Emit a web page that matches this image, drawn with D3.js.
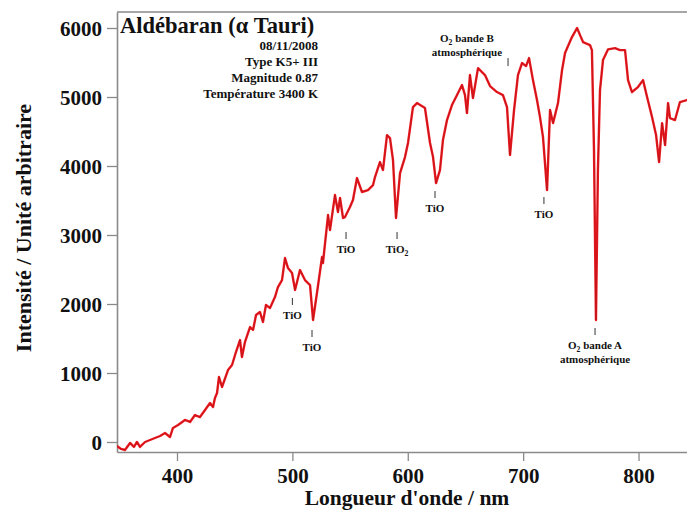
<!DOCTYPE html>
<html>
<head>
<meta charset="utf-8">
<script src="https://cdn.jsdelivr.net/npm/d3@7"></script>
<style>
html, body { margin: 0; padding: 0; background: #fff; }
svg { display: block; }
text { font-family: "Liberation Serif", "Times New Roman", serif; font-weight: bold; fill: #111; }
</style>
</head>
<body>
<svg id="chart" width="687" height="511"></svg>
<script>
// ---- data ----
const wavelength = [348,351.5,354.9,359.3,362.7,365.3,367.9,372.3,376.6,380.9,385.3,389.6,393.9,396.5,400.9,406.9,411.3,415.6,419.9,424.3,428.6,431.2,432.9,434.7,436.4,439.0,444.2,447.7,451.1,454.6,456.3,458.9,461.5,463.3,465.9,468.5,471.9,474.5,477.1,480.6,484.9,487.5,491.0,493.6,496.2,499.7,502.3,506.6,510.9,515.3,517.9,521.3,525.7,526.5,530.9,532.6,536.9,539.5,541.3,543.9,545.6,549.9,552.5,556.0,560.3,565.5,569.9,571.6,575.9,578.5,582.0,584.6,587.2,589.8,593.3,597.6,600.2,604.5,608.0,614.9,619.3,621.9,624.5,627.9,630.5,634.0,638.3,642.7,647.0,649.6,651.3,653.9,656.5,660.9,666.9,671.3,677.3,682.5,686.0,688.6,692.1,695.5,699.0,702.5,705.1,708.5,712.0,714.6,717.2,720.7,723.3,725.9,730.2,733.7,736.3,742.3,746.7,749.3,751.9,757.9,759.6,761.4,763.1,764.8,766.6,769.2,773.5,779.6,783.9,788.3,790.9,794.3,799.5,803.9,807.4,811.7,815.2,817.8,820.4,823.0,825.6,827.3,831.6,835.9,842.0,849];
const intensity = [-58,-101,-116,-14,-72,0,-72,0,29,58,87,130,72,203,246,319,290,391,362,464,565,507,638,710,942,797,1043,1116,1304,1478,1232,1449,1579,1666,1623,1840,1884,1739,1985,1942,2101,2246,2347,2666,2521,2449,2202,2492,2347,2275,1768,2159,2681,2594,3289,3072,3579,3333,3536,3246,3260,3405,3507,3825,3623,3651,3724,3840,4057,3941,4448,4405,4086,3246,3898,4130,4333,4854,4912,4840,4333,4130,3753,3941,4376,4666,4883,5028,5173,5028,4767,5318,4985,5419,5318,5158,5072,5028,4854,4159,4811,5318,5492,5448,5564,5245,4956,4709,4419,3651,4811,4622,4912,5390,5637,5869,5999,5897,5796,5753,5680,4231,1768,3941,5101,5535,5690,5709,5680,5680,5245,5072,5144,5245,4999,4709,4448,4057,4622,4303,4912,4695,4666,4927,4956,4950];

const xTicks = [400, 500, 600, 700, 800];
const yTicks = [0, 1000, 2000, 3000, 4000, 5000, 6000];

const titleText = "Aldébaran (α Tauri)";
const infoLines = ["08/11/2008", "Type K5+ III", "Magnitude 0.87", "Température 3400 K"];

// annotation anchors: wavelength of the marker, intensity at the top of the marker
const annoNm   = [500, 517, 546.5, 590.7, 623.6, 718, 762.3];
const annoTop  = [2087, 1623, 3043, 3043, 3637, 3550, 1652];
const annoText = [["TiO"], ["TiO"], ["TiO"], ["TiO|2"], ["TiO"], ["TiO"], ["O|2| bande A", "atmosphérique"]];
// O2 band B: marker and text placed separately
const bandBMarkerNm = 686.9, bandBMarkerTop = 5564;
const bandBTextNm = 651.3, bandBTextI = 5796;
const bandBText = ["O|2| bande B", "atmosphérique"];

(function draw() {
  const svg = d3.select("#chart");
  const mL = 117, mR = 687, mT = 12, mB = 452;
  const x = d3.scaleLinear().domain([348, 842]).range([mL, mR]);
  const y = d3.scaleLinear().domain([-145, 6232]).range([mB, mT]);
  const axisColor = "#8a8a8a";
  const fontFam = '"Liberation Serif", "Times New Roman", serif';

  svg.append("line").attr("x1", mL).attr("x2", mR).attr("y1", mT).attr("y2", mT)
    .attr("stroke", axisColor).attr("stroke-width", 1.5);

  const gx = svg.append("g").attr("transform", `translate(0,${mB})`)
    .call(d3.axisBottom(x).tickValues(xTicks).tickSize(9).tickSizeOuter(0).tickFormat(d3.format("d")));
  gx.select(".domain").attr("stroke", axisColor).attr("stroke-width", 1.6);
  gx.selectAll(".tick line").attr("stroke", axisColor).attr("stroke-width", 1.3);
  gx.selectAll(".tick text").attr("y", 31).attr("dy", 0)
    .style("font-family", fontFam).style("font-weight", "bold").style("font-size", "21px").attr("fill", "#111");

  const gy = svg.append("g").attr("transform", `translate(${mL},0)`)
    .call(d3.axisLeft(y).tickValues(yTicks).tickSize(10).tickPadding(5).tickSizeOuter(0).tickFormat(d3.format("d")));
  gy.select(".domain").attr("stroke", axisColor).attr("stroke-width", 1.6);
  gy.selectAll(".tick line").attr("stroke", axisColor).attr("stroke-width", 1.3);
  gy.selectAll(".tick text").attr("dy", "0.34em")
    .style("font-family", fontFam).style("font-weight", "bold").style("font-size", "21px").attr("fill", "#111");

  svg.append("clipPath").attr("id", "plotclip").append("rect")
    .attr("x", mL).attr("y", mT - 5).attr("width", mR - mL + 20).attr("height", mB - mT + 5);

  const pts = wavelength.map((w, i) => [w, intensity[i]]);
  const line = d3.line().x(d => x(d[0])).y(d => y(d[1]));
  const gLine = svg.append("g").attr("clip-path", "url(#plotclip)");
  gLine.append("path").datum(pts).attr("d", line)
    .attr("fill", "none").attr("stroke", "#ee1b22").attr("stroke-width", 2.4)
    .attr("stroke-linejoin", "round");
  gLine.append("path").datum(pts).attr("d", line)
    .attr("fill", "none").attr("stroke", "#8a0a0a").attr("stroke-width", 0.7)
    .attr("stroke-opacity", 0.55).attr("stroke-linejoin", "round");

  function writeRich(t, s, size) {
    const parts = s.split("|");
    parts.forEach((p, i) => {
      if (i % 2 === 1) {
        t.append("tspan").text(p).attr("font-size", size * 0.7).attr("dy", size * 0.25);
      } else {
        const ts = t.append("tspan").text(p);
        if (i > 0) ts.attr("dy", -size * 0.25);
      }
    });
  }

  const annoSize = 11;
  const ga = svg.append("g");
  annoNm.forEach((nm, i) => {
    const px = x(nm), py = y(annoTop[i]);
    ga.append("line").attr("x1", px).attr("x2", px).attr("y1", py).attr("y2", py + 7)
      .attr("stroke", "#333").attr("stroke-width", 1);
    annoText[i].forEach((s, j) => {
      const t = ga.append("text").attr("x", px).attr("y", py + 21 + j * 14)
        .attr("text-anchor", "middle").attr("font-size", annoSize);
      writeRich(t, s, annoSize);
    });
  });
  {
    const px = x(bandBMarkerNm), py = y(bandBMarkerTop);
    ga.append("line").attr("x1", px).attr("x2", px).attr("y1", py).attr("y2", py + 8)
      .attr("stroke", "#333").attr("stroke-width", 1);
    bandBText.forEach((s, j) => {
      const t = ga.append("text").attr("x", x(bandBTextNm)).attr("y", y(bandBTextI) + j * 14)
        .attr("text-anchor", "middle").attr("font-size", annoSize);
      writeRich(t, s, annoSize);
    });
  }

  svg.append("text").attr("x", 120).attr("y", 33).attr("font-size", 22.5).text(titleText);
  infoLines.forEach((s, i) => {
    svg.append("text").attr("x", 318).attr("y", 50 + i * 16).attr("text-anchor", "end")
      .attr("font-size", 13).text(s);
  });

  svg.append("text").attr("x", 407).attr("y", 505).attr("text-anchor", "middle")
    .attr("font-size", 21.5).text("Longueur d'onde / nm");
  svg.append("text").attr("transform", "translate(31,228) rotate(-90)").attr("text-anchor", "middle")
    .attr("font-size", 22).text("Intensité / Unité arbitraire");
})();
</script>
</body>
</html>
